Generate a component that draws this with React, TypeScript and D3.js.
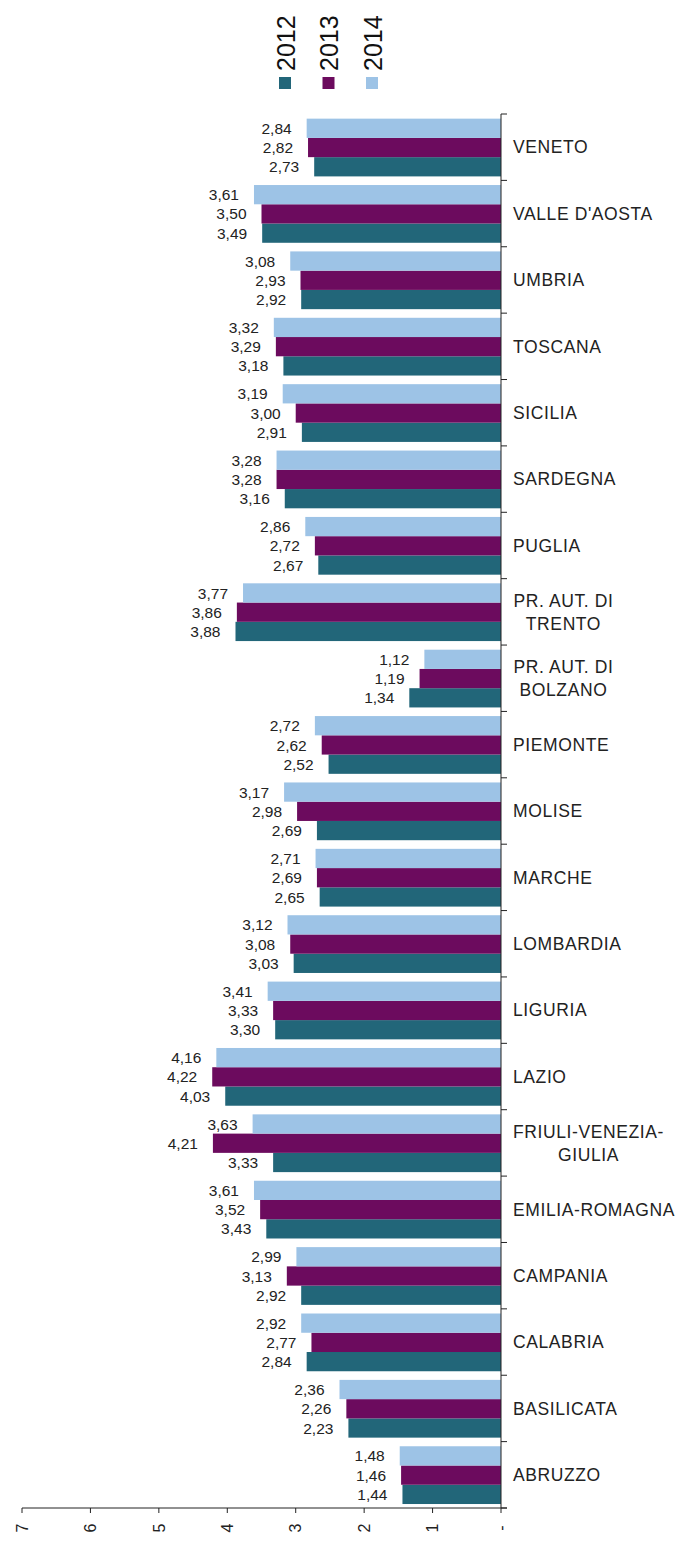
import React from "react";
import * as d3 from "d3";

const regions = [
  "VENETO", "VALLE D'AOSTA", "UMBRIA", "TOSCANA", "SICILIA", "SARDEGNA", "PUGLIA",
  "PR. AUT. DI\nTRENTO", "PR. AUT. DI\nBOLZANO", "PIEMONTE", "MOLISE", "MARCHE",
  "LOMBARDIA", "LIGURIA", "LAZIO", "FRIULI-VENEZIA-\nGIULIA", "EMILIA-ROMAGNA",
  "CAMPANIA", "CALABRIA", "BASILICATA", "ABRUZZO",
];

const v2014 = [2.84, 3.61, 3.08, 3.32, 3.19, 3.28, 2.86, 3.77, 1.12, 2.72, 3.17, 2.71, 3.12, 3.41, 4.16, 3.63, 3.61, 2.99, 2.92, 2.36, 1.48];
const v2013 = [2.82, 3.50, 2.93, 3.29, 3.00, 3.28, 2.72, 3.86, 1.19, 2.62, 2.98, 2.69, 3.08, 3.33, 4.22, 4.21, 3.52, 3.13, 2.77, 2.26, 1.46];
const v2012 = [2.73, 3.49, 2.92, 3.18, 2.91, 3.16, 2.67, 3.88, 1.34, 2.52, 2.69, 2.65, 3.03, 3.30, 4.03, 3.33, 3.43, 2.92, 2.84, 2.23, 1.44];

const seriesNames = ["2012", "2013", "2014"];
const seriesColors = ["#226679", "#6c0b5e", "#9dc3e6"];
const seriesValues = [v2012, v2013, v2014];
const tickValues = [0, 1, 2, 3, 4, 5, 6, 7];
const tickLabels = ["-", "1", "2", "3", "4", "5", "6", "7"];

const FONT = "'Liberation Sans', Arial, sans-serif";
const CAT_FS = 17.5;
const CAT_LS = 0.6;

function measure(text: string): number {
  if (typeof document === "undefined") return text.length * 10;
  const c = document.createElement("canvas").getContext("2d");
  if (!c) return text.length * 10;
  c.font = `${CAT_FS}px 'Liberation Sans', Arial, sans-serif`;
  return c.measureText(text).width + CAT_LS * text.length;
}

export default function App() {
  const W = 688, H = 1543;
  const x = d3.scaleLinear().domain([0, 7]).range([501, 22]);
  const y = d3.scaleBand<string>().domain(regions).range([114, 1508]).padding(0);
  const bw = y.bandwidth();
  const inner = d3.scaleBand<string>().domain(["2014", "2013", "2012"]).range([bw * 0.07, bw * 0.94]).padding(0);
  const fmt = (v: number) => v.toFixed(2).replace(".", ",");
  const labelLeft = 513;

  return (
    <svg width={W} height={H} style={{ position: "absolute", left: 0, top: 0, background: "#fff" }} fontFamily={FONT}>
      <rect x={0} y={0} width={W} height={H} fill="#fff" />
      {seriesNames.map((s, i) => {
        const cx = 285 + i * 43.5;
        return (
          <g key={s}>
            <rect x={cx - 6} y={77} width={12} height={12} fill={seriesColors[i]} />
            <text transform={`translate(${cx + 9.5},71) rotate(-90)`} fontSize={25} fill="#111" textAnchor="start">{s}</text>
          </g>
        );
      })}
      {regions.map((r, ri) => (
        <g key={r} transform={`translate(0,${y(r)})`}>
          {seriesNames.map((s, si) => {
            const v = seriesValues[si][ri];
            const by = inner(s)!;
            const bh = inner.bandwidth();
            return (
              <g key={s}>
                <rect x={x(v)} y={by} width={x(0) - x(v)} height={bh} fill={seriesColors[si]} />
                <text x={x(v) - 15} y={by + bh / 2} dy="0.36em" textAnchor="end" fontSize={15.5} fill="#222">{fmt(v)}</text>
              </g>
            );
          })}
          {(() => {
            const lines = r.split("\n");
            const cy = bw / 2;
            const lh = 23;
            const multi = lines.length > 1;
            const cx = multi ? labelLeft + measure(lines[0]) / 2 : labelLeft;
            return (
              <text textAnchor={multi ? "middle" : "start"} fontSize={CAT_FS} fill="#222" letterSpacing={CAT_LS}>
                {lines.map((l, li) => (
                  <tspan key={li} x={cx} y={cy + (li - (lines.length - 1) / 2) * lh} dy="0.36em">{l}</tspan>
                ))}
              </text>
            );
          })()}
        </g>
      ))}
      <line x1={501} x2={501} y1={114} y2={1508} stroke="#222" strokeWidth={1} />
      {[...regions.map((r) => y(r)!), 1508].map((yy, i) => (
        <line key={i} x1={501} x2={507} y1={yy} y2={yy} stroke="#222" strokeWidth={1} />
      ))}
      <line x1={22} x2={507} y1={1508} y2={1508} stroke="#222" strokeWidth={1} />
      {tickValues.map((t, i) => (
        <g key={t}>
          <line x1={x(t)} x2={x(t)} y1={1508} y2={1513} stroke="#222" strokeWidth={1} />
          <text transform={`translate(${x(t)},1528) rotate(-90)`} textAnchor="middle" dy="0.36em" fontSize={16} fill="#222">{tickLabels[i]}</text>
        </g>
      ))}
    </svg>
  );
}
